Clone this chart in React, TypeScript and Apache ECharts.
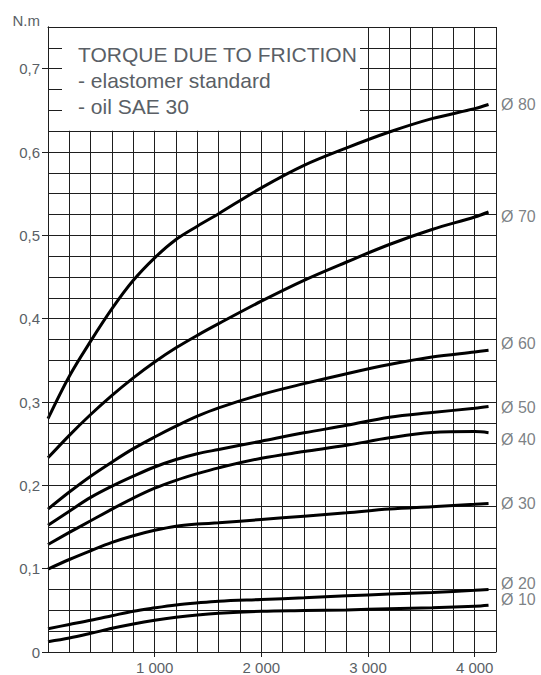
import React, { useEffect, useRef } from 'react';
import * as echarts from 'echarts';

// Speed (rpm) sampled along each curve
const rpm = [0, 200, 400, 600, 800, 1000, 1200, 1400, 1600, 2000, 2400, 2800, 3200, 3600, 4000, 4130];

// Torque due to friction (N.m) per seal diameter
const d80 = [0.280, 0.331, 0.373, 0.412, 0.446, 0.473, 0.495, 0.511, 0.526, 0.557, 0.584, 0.605, 0.624, 0.640, 0.652, 0.657];
const d70 = [0.233, 0.260, 0.285, 0.308, 0.329, 0.348, 0.365, 0.380, 0.394, 0.421, 0.446, 0.468, 0.489, 0.507, 0.522, 0.528];
const d60 = [0.1715, 0.192, 0.211, 0.228, 0.244, 0.258, 0.271, 0.283, 0.293, 0.309, 0.322, 0.334, 0.345, 0.354, 0.360, 0.362];
const d50 = [0.152, 0.169, 0.1855, 0.199, 0.211, 0.222, 0.231, 0.238, 0.243, 0.253, 0.263, 0.272, 0.2817, 0.2874, 0.2925, 0.2946];
const d40 = [0.129, 0.1435, 0.1575, 0.1715, 0.1847, 0.1966, 0.206, 0.214, 0.221, 0.2325, 0.2405, 0.248, 0.257, 0.2634, 0.2645, 0.2632];
const d30 = [0.0995, 0.111, 0.1215, 0.1315, 0.1395, 0.146, 0.151, 0.1535, 0.155, 0.159, 0.163, 0.167, 0.1715, 0.1743, 0.1772, 0.1783];
const d20 = [0.028, 0.033, 0.038, 0.0435, 0.049, 0.053, 0.0565, 0.059, 0.061, 0.063, 0.065, 0.0675, 0.0695, 0.0715, 0.074, 0.075];
const d10 = [0.0124, 0.0168, 0.0224, 0.0284, 0.0336, 0.038, 0.0416, 0.0445, 0.0465, 0.0488, 0.0497, 0.0505, 0.052, 0.053, 0.0548, 0.056];

const seriesNames = ['Ø 80', 'Ø 70', 'Ø 60', 'Ø 50', 'Ø 40', 'Ø 30', 'Ø 20', 'Ø 10'];
const seriesValues = [d80, d70, d60, d50, d40, d30, d20, d10];
// where the right-hand labels sit (N.m), at the right edge of the grid
const labelY = [0.657, 0.523, 0.3705, 0.2938, 0.2554, 0.1787, 0.0827, 0.0636];

const yTicks = [0, 0.1, 0.2, 0.3, 0.4, 0.5, 0.6, 0.7];
const xTicks = [1000, 2000, 3000, 4000];
const boxStubs = [0.65, 0.675, 0.7, 0.725];
const titleLines = ['TORQUE DUE TO FRICTION', '- elastomer standard', '- oil SAE 30'];
const unitLabel = 'N.m';
const xMax = 4200;
const xGridStep = 200;
const yMax = 0.75;
const yGridStep = 0.025;
const box = { x0: 0, x1: 2925, y0: 0.6255, y1: 0.75 };

const FONT = '"Liberation Sans", Arial, Helvetica, sans-serif';
const TEXT = '#5a5f66';
const GRID = '#1e1e1e';

const hidden = { axisLine: { show: false }, axisTick: { show: false }, axisLabel: { show: false }, splitLine: { show: false } };

export default function App() {
  const ref = useRef<HTMLDivElement>(null);
  useEffect(() => {
    document.body.style.margin = '0';
    const chart = echarts.init(ref.current!, null, { renderer: 'svg' });
    const lineSeries = seriesValues.map((vals, i) => ({
      type: 'line',
      name: seriesNames[i],
      data: rpm.map((x, j) => [x, vals[j]]),
      smooth: 0.35,
      showSymbol: false,
      symbol: 'none',
      lineStyle: { color: '#000', width: 3 },
      z: 3,
      silent: true,
    }));
    const option: any = {
      animation: false,
      backgroundColor: '#fff',
      grid: { left: 48, right: 45, top: 27, bottom: 22, containLabel: false },
      xAxis: [
        {
          // grid lines every 200 rpm
          type: 'value', min: 0, max: xMax, interval: xGridStep, position: 'bottom', z: 0,
          ...hidden,
          splitLine: { show: true, lineStyle: { color: GRID, width: 1 } },
        },
        {
          type: 'value', min: 0, max: xMax, position: 'bottom', z: 1,
          axisLine: { show: true, onZero: false, lineStyle: { color: GRID, width: 1 } },
          axisTick: { show: true, customValues: xTicks, length: 5, lineStyle: { color: GRID, width: 1 } },
          axisLabel: {
            show: true, customValues: xTicks, margin: 8, color: TEXT, fontSize: 15, fontFamily: FONT,
            formatter: (v: number) => String(v).replace(/\B(?=(\d{3})+(?!\d))/g, ' '),
          },
          splitLine: { show: false },
        },
        {
          type: 'value', min: 0, max: xMax, position: 'top', z: 6,
          ...hidden,
          axisLine: { show: true, onZero: false, lineStyle: { color: GRID, width: 1 } },
        },
      ],
      yAxis: [
        {
          // grid lines every 0.025 N.m
          type: 'value', min: 0, max: yMax, interval: yGridStep, position: 'left', z: 0,
          ...hidden,
          splitLine: { show: true, lineStyle: { color: GRID, width: 1 } },
        },
        {
          type: 'value', min: 0, max: yMax, position: 'left', z: 1,
          axisLine: { show: true, onZero: false, lineStyle: { color: GRID, width: 1 } },
          axisTick: { show: true, customValues: yTicks, length: 6, lineStyle: { color: GRID, width: 1 } },
          axisLabel: {
            show: true, customValues: yTicks, margin: 8, color: TEXT, fontSize: 15, fontFamily: FONT,
            formatter: (v: number) => (v === 0 ? '0' : v.toFixed(1).replace('.', ',')),
          },
          splitLine: { show: false },
        },
        {
          type: 'value', min: 0, max: yMax, position: 'left', z: 6,
          ...hidden,
          axisLine: { show: true, onZero: false, lineStyle: { color: GRID, width: 1 } },
          axisTick: { show: true, inside: true, customValues: boxStubs, length: 14, lineStyle: { color: GRID, width: 1 } },
        },
      ],
      series: [
        {
          type: 'scatter',
          name: 'labels',
          data: labelY.map((y) => [xMax, y]),
          symbolSize: 0,
          clip: false,
          silent: true,
          z: 2,
          label: {
            show: true, position: 'right', distance: 5, color: TEXT, fontSize: 16, fontFamily: FONT,
            formatter: (p: any) => seriesNames[p.dataIndex],
          },
          markArea: {
            silent: true,
            itemStyle: { color: '#fff', opacity: 1, borderWidth: 0 },
            data: [[{ coord: [box.x0, box.y0] }, { coord: [box.x1, box.y1] }]],
          },
        },
        ...lineSeries,
      ],
      graphic: [
        {
          type: 'text', x: 40, y: 20, z: 10,
          style: { text: unitLabel, align: 'right', verticalAlign: 'middle', fill: TEXT, font: `15px ${FONT}` },
        },
        {
          type: 'text', x: 78, y: 41, z: 10,
          style: { text: titleLines.join('\n'), fill: TEXT, font: `21px ${FONT}`, lineHeight: 26, verticalAlign: 'top' },
        },
      ],
    };
    chart.setOption(option);
    return () => chart.dispose();
  }, []);
  return <div ref={ref} style={{ position: 'fixed', left: 0, top: 0, width: 541, height: 675, background: '#fff' }} />;
}
